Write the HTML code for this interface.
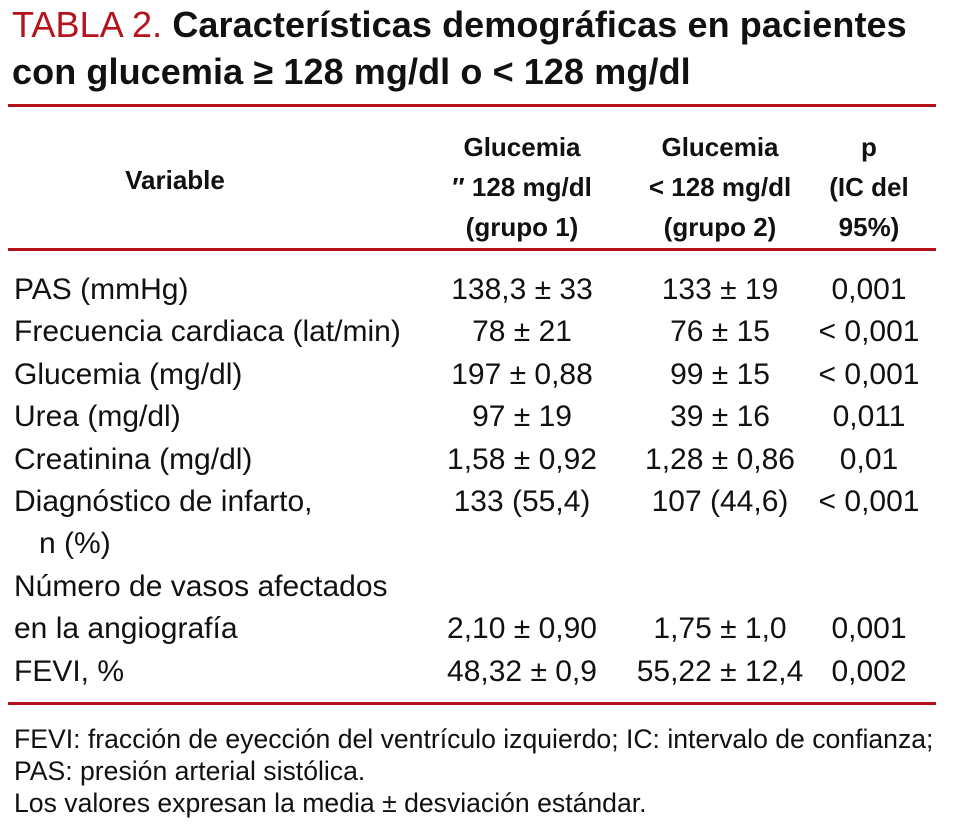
<!DOCTYPE html>
<html><head><meta charset="utf-8"><style>
body{margin:0;width:955px;height:831px;background:#fff;position:relative;overflow:hidden;font-family:"Liberation Sans Narrow","Liberation Sans",sans-serif;color:#111}
.t{position:absolute;white-space:nowrap;line-height:1}
.c{transform:translateX(-50%)}
.h{font-weight:bold;font-size:26px}
.r{font-size:30px}
.line{position:absolute;left:8px;width:928px;height:3px;background:#b5121b}
</style></head><body>
<div class="t" style="left:12px;top:7px;font-size:36px;font-family:'Liberation Sans',sans-serif;font-weight:bold;letter-spacing:0.1px"><span style="color:#b5121b;font-weight:normal">TABLA 2.</span> Características demográficas en pacientes</div>
<div class="t" style="left:12px;top:54px;font-size:36px;font-family:'Liberation Sans',sans-serif;font-weight:bold;letter-spacing:0.1px">con glucemia ≥ 128 mg/dl o &lt; 128 mg/dl</div>
<div class="line" style="top:104px"></div>
<div class="line" style="top:248px"></div>
<div class="line" style="top:702px"></div>

<div class="t h c" style="left:175px;top:167px">Variable</div>
<div class="t h c" style="left:522px;top:127px;line-height:40px;text-align:center">Glucemia<br>″ 128 mg/dl<br>(grupo 1)</div>
<div class="t h c" style="left:720px;top:127px;line-height:40px;text-align:center">Glucemia<br>&lt; 128 mg/dl<br>(grupo 2)</div>
<div class="t h c" style="left:869px;top:127px;line-height:40px;text-align:center">p<br>(IC del<br>95%)</div>

<div id="rows"></div>

<div class="t" style="left:14px;top:723px;font-size:26.6px;line-height:32px">FEVI: fracción de eyección del ventrículo izquierdo; IC: intervalo de confianza;<br>PAS: presión arterial sistólica.<br>Los valores expresan la media ± desviación estándar.</div>

<script>
const labels=["PAS (mmHg)","Frecuencia cardiaca (lat/min)","Glucemia (mg/dl)","Urea (mg/dl)","Creatinina (mg/dl)","Diagnóstico de infarto,","   n (%)","Número de vasos afectados","en la angiografía","FEVI, %"];
const g1=["138,3 ± 33","78 ± 21","197 ± 0,88","97 ± 19","1,58 ± 0,92","133 (55,4)","","","2,10 ± 0,90","48,32 ± 0,9"];
const g2=["133 ± 19","76 ± 15","99 ± 15","39 ± 16","1,28 ± 0,86","107 (44,6)","","","1,75 ± 1,0","55,22 ± 12,4"];
const pv=["0,001","< 0,001","< 0,001","0,011","0,01","< 0,001","","","0,001","0,002"];
const host=document.getElementById('rows');
labels.forEach((l,i)=>{
  const top=275+i*42.4;
  const mk=(txt,left,center)=>{
    const d=document.createElement('div');
    d.className='t r'+(center?' c':'');
    d.style.left=left+'px';d.style.top=top+'px';
    d.style.whiteSpace='pre';
    d.textContent=txt;
    host.appendChild(d);
    return d;
  };
  const a=mk(l,14,false);
  
  
  if(g1[i]){const b=mk(g1[i],522,true);
  
  }
  if(g2[i]){const c=mk(g2[i],720,true);
  
  }
  if(pv[i]){const p=mk(pv[i],869,true);
  
  }
});
</script>
</body></html>
